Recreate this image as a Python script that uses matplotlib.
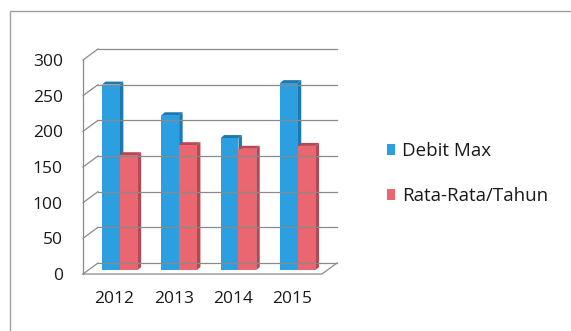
import matplotlib
matplotlib.use('Agg')
import matplotlib.pyplot as plt
from matplotlib.patches import Polygon, Rectangle
import numpy as np

years = ['2012', '2013', '2014', '2015']
debit_max = [260, 217, 185, 262]
rata_rata = [161, 175, 170, 174]
yticks = [0, 50, 100, 150, 200, 250, 300]

blue, blue_side = '#2b9fe0', '#1f78b0'
red, red_side = '#ea6670', '#b54852'
grid_col = '#8a8a8a'
text_col = '#1a1a1a'

plt.rcParams['font.family'] = ['Open Sans', 'DejaVu Sans']

W, H = 571, 331
fig = plt.figure(figsize=(W / 100, H / 100), dpi=100)
ax = fig.add_axes([83 / W, (H - 274) / H, 239 / W, 214 / H])
xl, xr = -0.53, 3.50
ax.set_xlim(xl, xr)
ax.set_ylim(0, 300)
ax.set_frame_on(False)

# pixel -> data units
ux = (xr - xl) / 239
uy = 300 / 214
DX, DY = 15 * ux, 11 * uy          # wall depth
bx, by = 0.36 * DX, 0.36 * DY      # bar plane
ddx, ddy = 3.5 * ux, 3 * uy        # bar depth
w = 0.30

# back wall gridlines + left wall diagonals
for v in yticks:
    ax.plot([xl + DX, xr + DX], [v + DY, v + DY], color=grid_col, lw=0.9, clip_on=False)
    ax.plot([xl, xl + DX], [v, v + DY], color=grid_col, lw=0.9, clip_on=False)
ax.plot([xl, xl], [0, 300], color=grid_col, lw=0.9, clip_on=False)
# floor
ax.plot([xl, xr, xr + DX], [0, 0, DY], color=grid_col, lw=0.9, clip_on=False)

x = np.arange(len(years))


def bar3d(x0, vals, col, side):
    for xi, v in zip(x0, vals):
        top = by + v
        ax.add_patch(Polygon([(xi + w, by), (xi + w, top), (xi + w + ddx, top + ddy),
                              (xi + w + ddx, by + ddy)], closed=True, fc=side, ec='none',
                             clip_on=False))
        ax.add_patch(Polygon([(xi, top), (xi + w, top), (xi + w + ddx, top + ddy),
                              (xi + ddx, top + ddy)], closed=True, fc=side, ec='none',
                             clip_on=False))
    return ax.bar(x0, vals, width=w, bottom=by, align='edge', color=col, clip_on=False)


b1 = bar3d(x + bx - w, debit_max, blue, blue_side)
b2 = bar3d(x + bx, rata_rata, red, red_side)

ax.set_yticks(yticks)
ax.set_yticklabels([str(v) for v in yticks])
ax.set_xticks(x)
ax.set_xticklabels(years)
ax.tick_params(axis='y', length=0, pad=14.5, labelsize=12.5, labelcolor=text_col)
ax.tick_params(axis='x', length=0, pad=12, labelsize=12.5, labelcolor=text_col)

ax.legend([b1, b2], ['Debit Max', 'Rata-Rata/Tahun'], loc='center left',
          bbox_to_anchor=(387 / W, 1 - 173.5 / H), bbox_transform=fig.transFigure,
          frameon=False, fontsize=13.5, handlelength=0.42, handleheight=0.5,
          handletextpad=0.4, labelspacing=1.45, borderpad=0, borderaxespad=0,
          labelcolor=text_col)

# chart border
fig.add_artist(Rectangle((10 / W, -0.2), 1.2, 1.2 - 11 / H, transform=fig.transFigure,
                         fill=False, ec='#a0a0a0', lw=1.0))

fig.savefig('out.png', dpi=100)
